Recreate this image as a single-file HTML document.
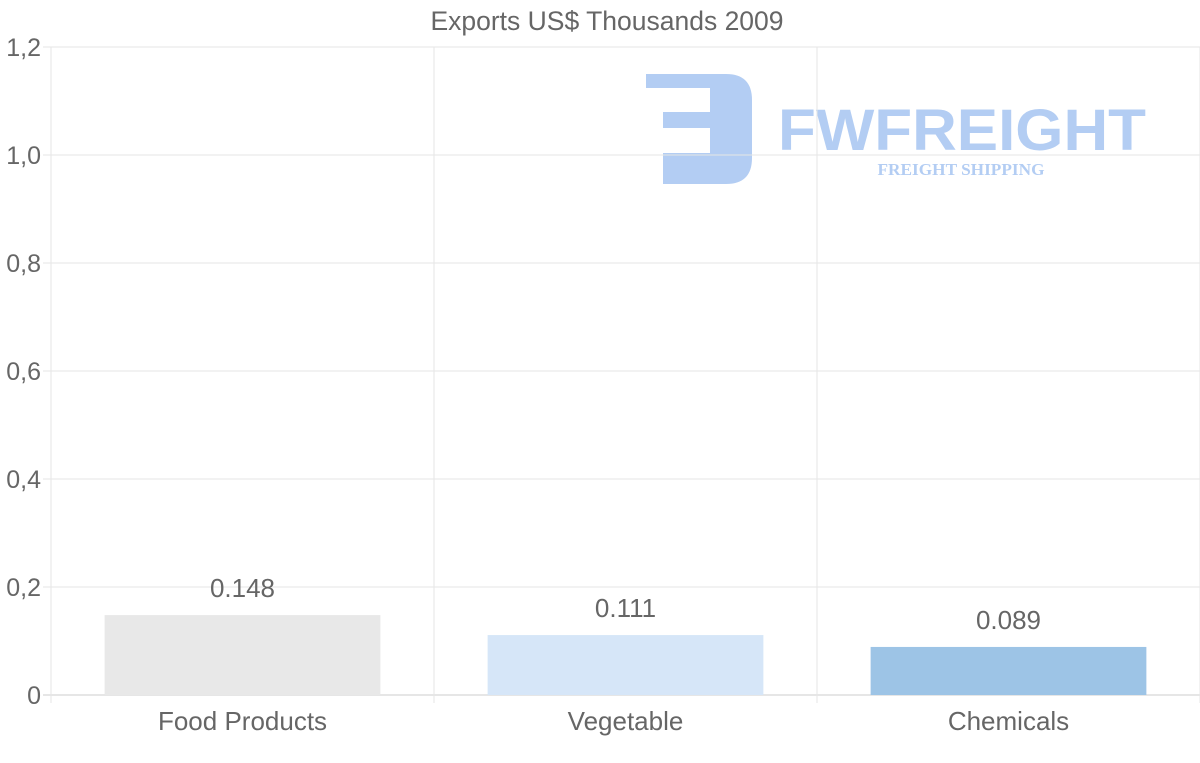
<!DOCTYPE html>
<html><head><meta charset="utf-8"><style>
html,body{margin:0;padding:0;background:#fff;}
svg{display:block;font-family:"Liberation Sans",sans-serif;}
</style></head><body>
<svg id="chart" width="1200" height="763" viewBox="0 0 1200 763">
<g fill="#b3cdf3">
<path d="M646 74 H726 Q752 74 752 100 V158 Q752 184 726 184 H663 V153 H710 V128 H663 V112 H710 V88 H663 V88 H646 Z" fill="#b3cdf3"/>
<text x="962" y="150" text-anchor="middle" font-size="58" font-weight="bold" textLength="368" lengthAdjust="spacingAndGlyphs">FWFREIGHT</text>
<text x="961" y="175" text-anchor="middle" font-size="17" font-weight="bold" font-family="Liberation Serif,serif" textLength="167" lengthAdjust="spacingAndGlyphs">FREIGHT SHIPPING</text>
</g>
<text x="607" y="30" text-anchor="middle" font-size="26.5" fill="#666">Exports US$ Thousands 2009</text>
<g id="grid"></g><g id="bars"></g><g id="labels"></g>
</svg>
<script>
const categories=["Food Products","Vegetable","Chemicals"];
const values=[0.148,0.111,0.089];
const colors=["#e8e8e8","#d6e6f8","#9dc4e6"];
const yTicks=[0,0.2,0.4,0.6,0.8,1.0,1.2];
const yTickLabels=["0","0,2","0,4","0,6","0,8","1,0","1,2"];
const NS="http://www.w3.org/2000/svg";
const L=51,R=1200,T=47,B=695,yMax=1.2;
const y=v=>B-(v/yMax)*(B-T);
const bw=(R-L)/categories.length;
const x=i=>L+i*bw;
function mk(tag,attrs,parent,txt){const e=document.createElementNS(NS,tag);for(const k in attrs)e.setAttribute(k,attrs[k]);if(txt!==undefined)e.textContent=txt;parent.appendChild(e);return e;}
const grid=document.getElementById('grid'),bars=document.getElementById('bars'),labels=document.getElementById('labels');
yTicks.forEach((t,i)=>{
 const ln=mk('line',{x1:L-8,x2:R,y1:y(t),y2:y(t),stroke:i===0?'#ccc':'#e6e6e6','stroke-width':1},grid);
 
 
 const tx=mk('text',{x:L-10,y:y(t)+9,'text-anchor':'end','font-size':25,fill:'#666'},grid,yTickLabels[i]);
 
 
});
for(let i=0;i<=categories.length;i++){
 const ln=mk('line',{x1:x(i),x2:x(i),y1:T,y2:B+8,stroke:'#e6e6e6','stroke-width':1},grid);
 
 
}
categories.forEach((c,i)=>{
 const w=bw*0.72,cx=x(i)+bw/2;
 const r=mk('rect',{x:cx-w/2,y:y(values[i]),width:w,height:B-y(values[i]),fill:colors[i]},bars);
 
 
 const v=mk('text',{x:cx,y:y(values[i])-18,'text-anchor':'middle','font-size':26,fill:'#666'},labels,String(values[i]));
 
 
 const t=mk('text',{x:cx,y:730,'text-anchor':'middle','font-size':26,fill:'#666'},labels,c);
 
 
});
</script>
</body></html>
